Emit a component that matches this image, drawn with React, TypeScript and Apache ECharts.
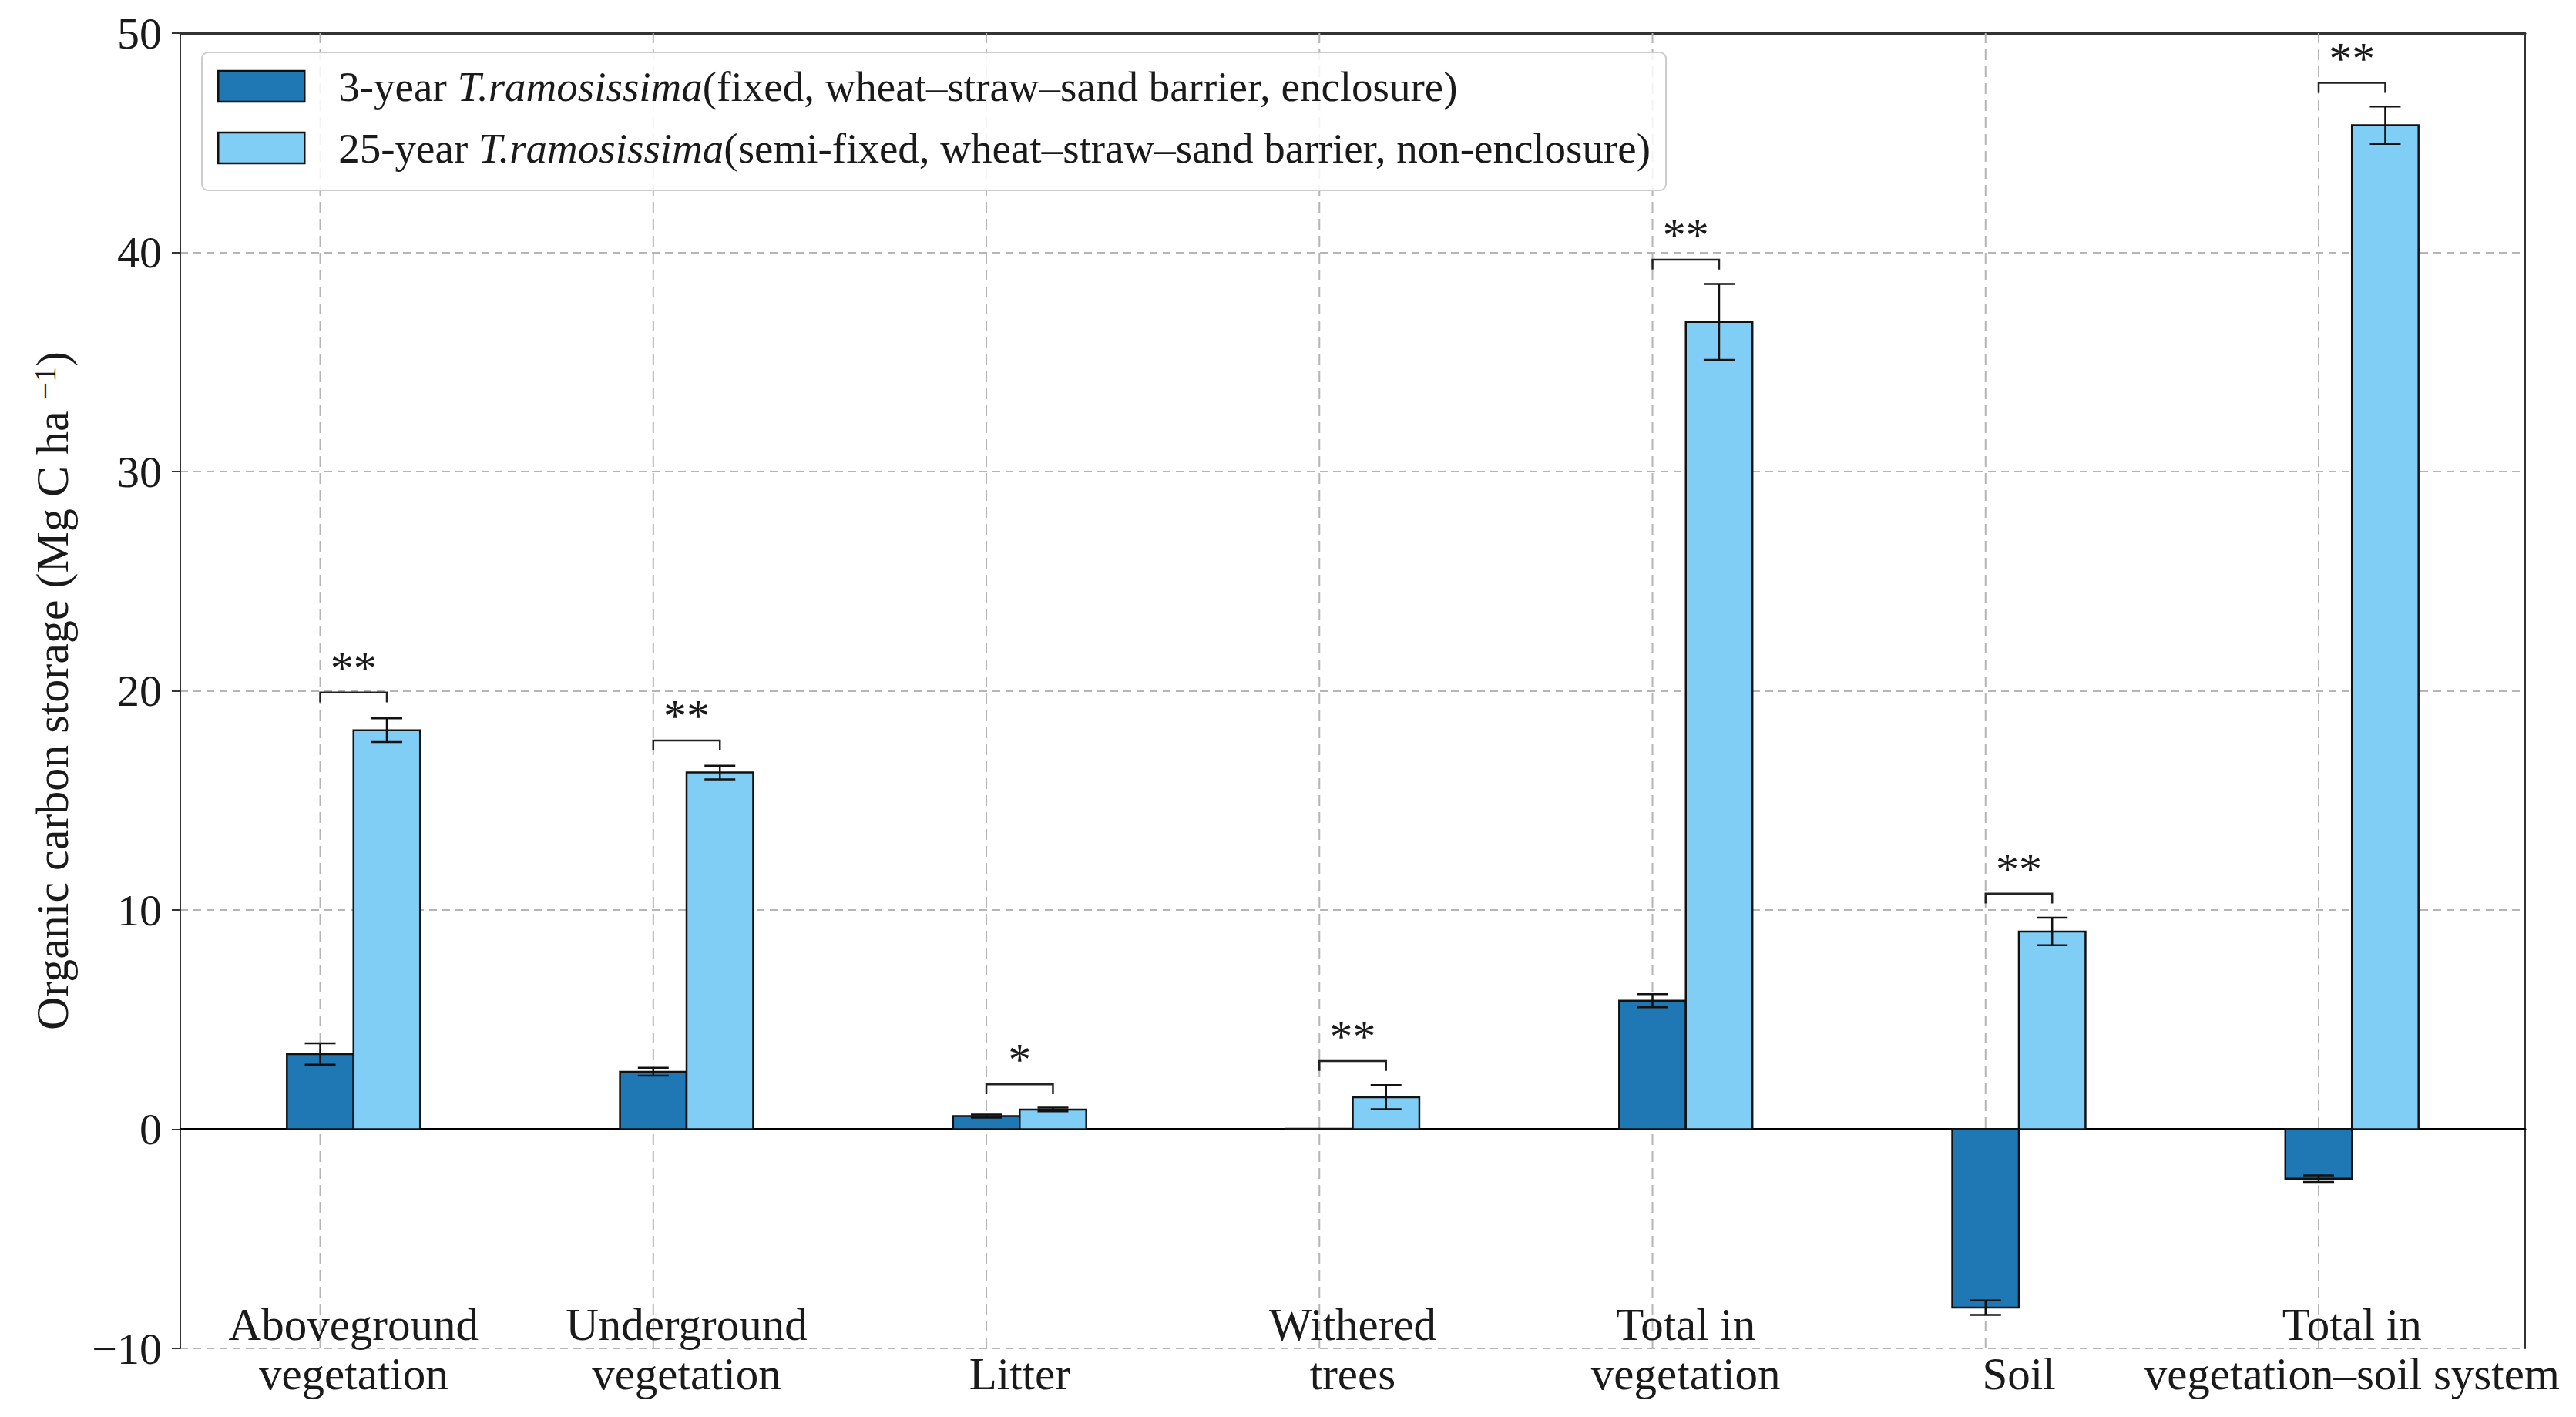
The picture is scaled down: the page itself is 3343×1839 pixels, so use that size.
import React, { useEffect, useRef } from "react";
import * as echarts from "echarts";

const categories = [
  "Aboveground\nvegetation",
  "Underground\nvegetation",
  "Litter",
  "Withered\ntrees",
  "Total in\nvegetation",
  "Soil",
  "Total in\nvegetation–soil system",
];
const seriesNames = [
  "3-year T.ramosissima(fixed, wheat–straw–sand barrier, enclosure)",
  "25-year T.ramosissima(semi-fixed, wheat–straw–sand barrier, non-enclosure)",
];
const young = [3.43, 2.62, 0.6, 0.02, 5.86, -8.14, -2.26];
const youngErr = [0.49, 0.18, 0.07, 0, 0.3, 0.33, 0.15];
const old = [18.2, 16.27, 0.9, 1.46, 36.83, 9.02, 45.8];
const oldErr = [0.54, 0.31, 0.08, 0.55, 1.73, 0.63, 0.85];
const sigLabels = ["**", "**", "*", "**", "**", "**", "**"];
const sigHeights = [19.92, 17.73, 2.05, 3.11, 39.67, 10.75, 47.73];
const yTicks = [-10, 0, 10, 20, 30, 40, 50];

const FONT = "'Liberation Serif', 'Times New Roman', serif";
const DARK = "#1f77b4";
const LIGHT = "#80cdf6";
const EDGE = "#111111";
const BAR_W = 0.2;
const X_MIN = -0.42;
const X_MAX = 6.62;

function barSeries(name: string, values: number[], errs: number[], offset: number, color: string) {
  return {
    type: "custom",
    name,
    z: 3,
    clip: false,
    itemStyle: { color, borderColor: EDGE, borderWidth: 2.5 },
    data: values.map((v, i) => [i + offset, v, errs[i]]),
    encode: { x: 0, y: 1 },
    renderItem: (params: any, api: any) => {
      const x = api.value(0);
      const v = api.value(1);
      const e = api.value(2);
      const p0 = api.coord([x - BAR_W / 2, 0]);
      const p1 = api.coord([x + BAR_W / 2, v]);
      const children: any[] = [
        {
          type: "rect",
          shape: {
            x: p0[0],
            y: Math.min(p0[1], p1[1]),
            width: p1[0] - p0[0],
            height: Math.abs(p1[1] - p0[1]),
          },
          style: { fill: color, stroke: EDGE, lineWidth: 2.5 },
        },
      ];
      if (e > 0) {
        const t = api.coord([x, v + e]);
        const b = api.coord([x, v - e]);
        const cap = 20;
        const st = { stroke: EDGE, lineWidth: 2.5 };
        children.push(
          { type: "line", shape: { x1: t[0], y1: t[1], x2: b[0], y2: b[1] }, style: st },
          { type: "line", shape: { x1: t[0] - cap, y1: t[1], x2: t[0] + cap, y2: t[1] }, style: st },
          { type: "line", shape: { x1: b[0] - cap, y1: b[1], x2: b[0] + cap, y2: b[1] }, style: st }
        );
      }
      return { type: "group", children };
    },
  };
}

const option: any = {
  animation: false,
  backgroundColor: "#ffffff",
  textStyle: { fontFamily: FONT },
  grid: { left: 234, right: 66, top: 43, bottom: 89, containLabel: false },
  legend: {
    orient: "vertical",
    left: 262,
    top: 68,
    icon: "rect",
    itemWidth: 112,
    itemHeight: 40,
    itemGap: 20,
    padding: [14, 20, 25, 20],
    borderColor: "#cccccc",
    borderWidth: 2,
    borderRadius: 8,
    backgroundColor: "rgba(255,255,255,0.85)",
    selectedMode: false,
    data: [
      { name: seriesNames[0], itemStyle: { color: DARK, borderColor: EDGE, borderWidth: 2.5 } },
      { name: seriesNames[1], itemStyle: { color: LIGHT, borderColor: EDGE, borderWidth: 2.5 } },
    ],
    formatter: (n: string) => n.replace("T.ramosissima", "{i|T.ramosissima}"),
    textStyle: {
      fontFamily: FONT,
      fontSize: 55,
      color: "#1a1a1a",
      lineHeight: 60,
      padding: [0, 0, 0, 39],
      rich: { i: { fontFamily: FONT, fontSize: 55, fontStyle: "italic", color: "#1a1a1a", lineHeight: 60 } },
    },
  },
  xAxis: [
    {
      type: "value",
      min: X_MIN,
      max: X_MAX,
      axisLine: { show: true, onZero: true, lineStyle: { color: "#000000", width: 3 } },
      axisTick: { show: false },
      axisLabel: { show: false },
      splitLine: { show: false },
    },
    {
      type: "value",
      position: "top",
      min: X_MIN,
      max: X_MAX,
      axisLine: { show: true, onZero: false, lineStyle: { color: "#333333", width: 3 } },
      axisTick: { show: false },
      axisLabel: { show: false },
      splitLine: { show: false },
    },
  ],
  yAxis: [
    {
      type: "value",
      min: yTicks[0],
      max: yTicks[yTicks.length - 1],
      interval: 10,
      name: "Organic carbon storage (Mg C ha {sup|−1})",
      nameLocation: "middle",
      nameGap: 136,
      nameTextStyle: {
        fontFamily: FONT,
        fontSize: 60,
        color: "#1a1a1a",
        lineHeight: 60,
        rich: { sup: { fontFamily: FONT, fontSize: 40, lineHeight: 18, verticalAlign: "top", color: "#1a1a1a" } },
      },
      axisLine: { show: true, onZero: false, lineStyle: { color: "#333333", width: 2 } },
      axisTick: { show: true, inside: false, length: 11, lineStyle: { color: "#333333", width: 2 } },
      axisLabel: {
        margin: 24,
        fontFamily: FONT,
        fontSize: 58,
        color: "#1a1a1a",
        formatter: (v: number) => (v < 0 ? "\u2212" + Math.abs(v) : String(v)),
      },
      splitLine: { show: true, lineStyle: { color: "#b5b5b5", width: 2, type: [10, 7] } },
    },
    {
      type: "value",
      position: "right",
      min: yTicks[0],
      max: yTicks[yTicks.length - 1],
      interval: 10,
      axisLine: { show: true, onZero: false, lineStyle: { color: "#333333", width: 2 } },
      axisTick: { show: false },
      axisLabel: { show: false },
      splitLine: { show: false },
    },
  ],
  series: [
    {
      type: "custom",
      name: "vgrid",
      z: 1,
      silent: true,
      data: categories.map((_, i) => [i, 0]),
      encode: { x: 0, y: 1 },
      renderItem: (params: any, api: any) => {
        const x = api.value(0);
        const a = api.coord([x, yTicks[0]]);
        const b = api.coord([x, yTicks[yTicks.length - 1]]);
        return {
          type: "line",
          shape: { x1: a[0], y1: a[1], x2: b[0], y2: b[1] },
          style: { stroke: "#b5b5b5", lineWidth: 2, lineDash: [14, 8] },
        };
      },
    },
    barSeries(seriesNames[0], young, youngErr, 0, DARK),
    barSeries(seriesNames[1], old, oldErr, BAR_W, LIGHT),
    {
      type: "custom",
      name: "sig",
      z: 4,
      silent: true,
      clip: false,
      data: sigHeights.map((h, i) => [i, h]),
      encode: { x: 0, y: 1 },
      renderItem: (params: any, api: any) => {
        const i = api.value(0);
        const h = api.value(1);
        const drop = 0.45;
        const pts = [
          api.coord([i, h - drop]),
          api.coord([i, h]),
          api.coord([i + BAR_W, h]),
          api.coord([i + BAR_W, h - drop]),
        ];
        const c = api.coord([i + BAR_W / 2, h]);
        return {
          type: "group",
          children: [
            { type: "polyline", shape: { points: pts }, style: { stroke: "#222222", lineWidth: 2.5, fill: "none" } },
            {
              type: "text",
              x: c[0],
              y: c[1] - 32,
              style: {
                text: sigLabels[params.dataIndex],
                fontFamily: FONT,
                fontSize: 60,
                fill: "#1a1a1a",
                align: "center",
                verticalAlign: "middle",
              },
            },
          ],
        };
      },
    },
    {
      type: "custom",
      name: "xlabels",
      z: 5,
      silent: true,
      clip: false,
      data: categories.map((_, i) => [i + BAR_W / 2, yTicks[0]]),
      encode: { x: 0, y: 1 },
      renderItem: (params: any, api: any) => {
        const p = api.coord([api.value(0), api.value(1)]);
        return {
          type: "text",
          x: p[0],
          y: p[1] + 65,
          style: {
            text: categories[params.dataIndex],
            fontFamily: FONT,
            fontSize: 59,
            lineHeight: 64,
            fill: "#1a1a1a",
            align: "center",
            verticalAlign: "bottom",
          },
        };
      },
    },
  ],
};

export default function App() {
  const ref = useRef<HTMLDivElement>(null);
  useEffect(() => {
    document.body.style.margin = "0";
    const chart = echarts.init(ref.current as HTMLDivElement, null, { renderer: "svg" });
    chart.setOption(option);
    return () => chart.dispose();
  }, []);
  return <div ref={ref} style={{ width: 3343, height: 1839 }} />;
}
